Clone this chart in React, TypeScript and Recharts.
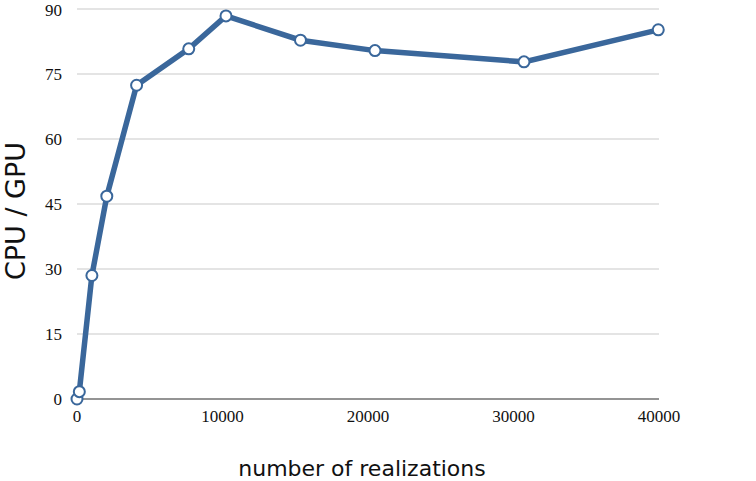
import { LineChart, Line, XAxis, YAxis, CartesianGrid, Label } from 'recharts';

// number of realizations vs. speedup (CPU time / GPU time)
const realizations = [0, 160, 1024, 2048, 4096, 7680, 10240, 15360, 20480, 30720, 39950];
const speedup = [0, 1.7, 28.5, 46.8, 72.4, 80.8, 88.4, 82.8, 80.4, 77.8, 85.2];
const xTicks = [0, 10000, 20000, 30000, 40000];
const yTicks = [0, 15, 30, 45, 60, 75, 90];

const data = realizations.map((n, i) => ({ n, ratio: speedup[i] }));

const BLUE = '#3a679b';
const tickStyle = { fontFamily: '"Liberation Serif", serif', fontSize: 17, fill: '#111' };

const YTitle = ({ viewBox }: any) => {
  const cx = 15;
  const cy = viewBox.y + 202;
  return (
    <text
      x={cx}
      y={cy}
      transform={`rotate(-90, ${cx}, ${cy})`}
      textAnchor="middle"
      dominantBaseline="central"
      style={{ fontFamily: '"DejaVu Sans", sans-serif', fontSize: 27, fill: '#111' }}
    >
      CPU / GPU
    </text>
  );
};

const XTitle = ({ viewBox }: any) => (
  <text
    x={362}
    y={viewBox.y + 69}
    textAnchor="middle"
    dominantBaseline="central"
    style={{ fontFamily: '"DejaVu Sans", sans-serif', fontSize: 22, fill: '#111' }}
  >
    number of realizations
  </text>
);

export default function App() {
  return (
    <div style={{ position: 'absolute', left: 0, top: 0, background: '#fff' }}>
      <LineChart width={756} height={481} data={data} margin={{ top: 9, right: 97, left: 0, bottom: 0 }}>
        <CartesianGrid vertical={false} stroke="#c9c9c9" strokeWidth={1.2} />
        <XAxis
          dataKey="n"
          type="number"
          domain={[0, 40000]}
          ticks={xTicks}
          tickLine={false}
          tickSize={0}
          tickMargin={11}
          stroke="#7a7a7a"
          strokeWidth={1.5}
          tick={tickStyle}
          height={82}
        >
          <Label content={<XTitle />} />
        </XAxis>
        <YAxis
          type="number"
          domain={[0, 90]}
          ticks={yTicks}
          axisLine={false}
          tickLine={false}
          tickSize={0}
          tickMargin={15}
          tick={tickStyle}
          width={77}
        >
          <Label content={<YTitle />} />
        </YAxis>
        <Line
          dataKey="ratio"
          type="linear"
          stroke={BLUE}
          strokeWidth={5.5}
          dot={{ r: 5.5, fill: '#fff', stroke: BLUE, strokeWidth: 2 }}
          activeDot={false}
          isAnimationActive={false}
        />
      </LineChart>
    </div>
  );
}
